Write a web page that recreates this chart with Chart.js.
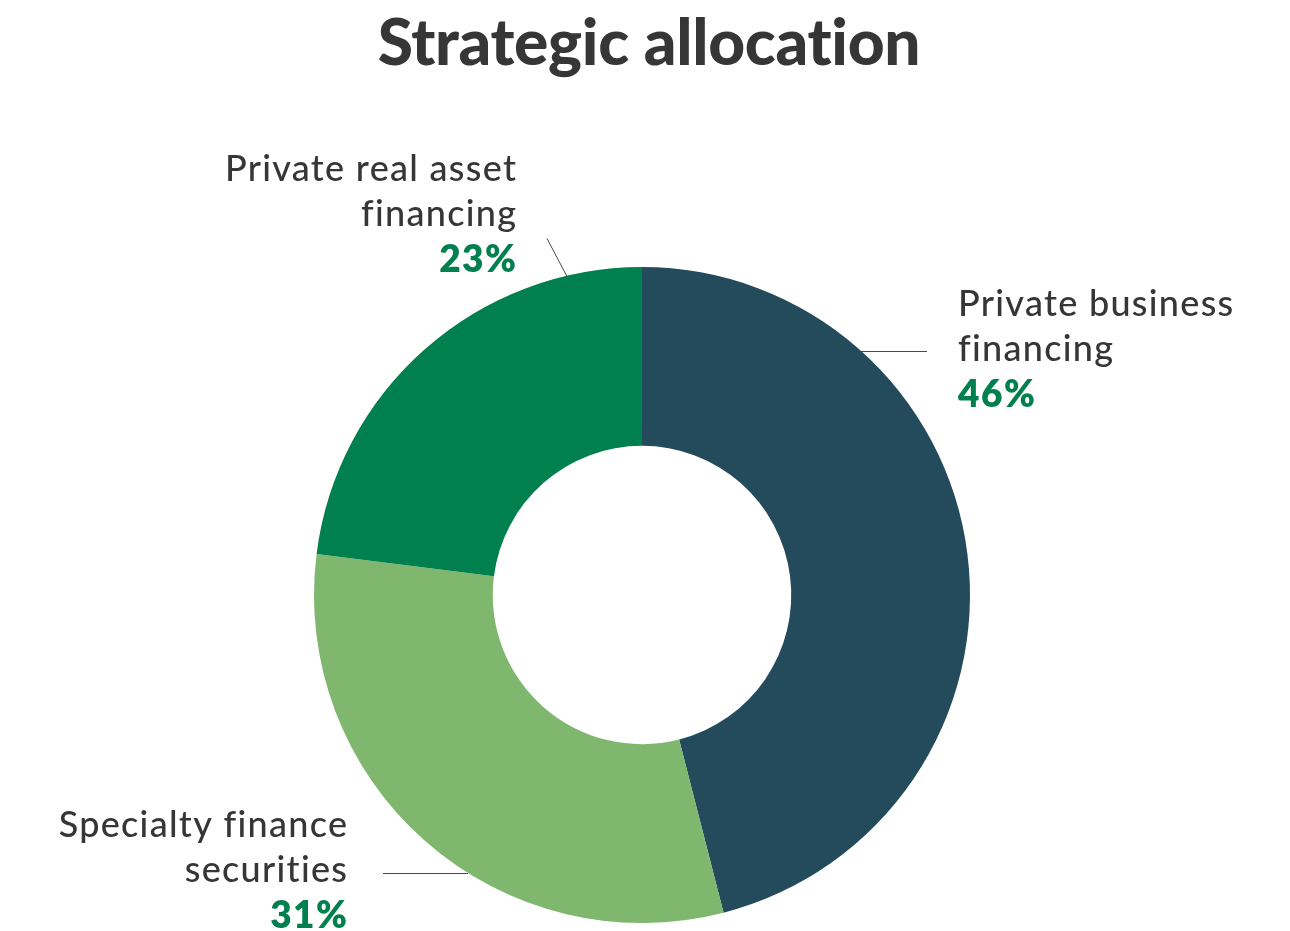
<!DOCTYPE html>
<html>
<head>
<meta charset="utf-8">
<script src="https://cdn.jsdelivr.net/npm/chart.js@4.4.1/dist/chart.umd.min.js"></script>
<style>
  html, body { margin: 0; padding: 0; background: #ffffff; }
  #wrap { width: 1290px; height: 931px; position: relative; }
</style>
</head>
<body>
<div id="wrap"><canvas id="c" width="1290" height="931"></canvas></div>
<script>
const titleText = "Strategic allocation";
const categories = ["Private business financing", "Specialty finance securities", "Private real asset financing"];
const labelLines = [["Private business", "financing"], ["Specialty finance", "securities"], ["Private real asset", "financing"]];
const values = [46, 31, 23];
const colors = ["#244B5C", "#7FB76E", "#007F4F"];

const TEXT = "#363636";
const PCT = "#007F4F";
const FONT = "Lato, 'Open Sans', sans-serif";

// label placement: angle (deg, clockwise from top) where leader meets arc, leader end, text anchor
const labelLayout = [
  { ang: 41.9, lineEnd: (cx, cy, r) => ({ x: cx + 285, y: null }), align: "left", tx: (cx) => cx + 316, ty0: (cy) => cy - 279 },
  { ang: 212.1, lineEnd: (cx, cy, r) => ({ x: cx - 259, y: null }), align: "right", tx: (cx) => cx - 295, ty0: (cy) => cy + 242 },
  { ang: -13.2, lineEnd: (cx, cy, r) => ({ x: cx - 95, y: cy - 357 }), align: "right", tx: (cx) => cx - 126, ty0: (cy) => cy - 414 }
];

function drawSpaced(ctx, text, x, y, spacing, align) {
  ctx.letterSpacing = spacing + "px";
  const adj = align === "right" ? spacing : 0;
  ctx.fillText(text, x + adj, y);
  ctx.letterSpacing = "0px";
}

const labelsPlugin = {
  id: "sliceLabels",
  afterDatasetsDraw(chart) {
    const ctx = chart.ctx;
    const meta = chart.getDatasetMeta(0);
    const arc0 = meta.data[0];
    const cx = arc0.x, cy = arc0.y, r = arc0.outerRadius;
    ctx.save();
    // title
    ctx.fillStyle = TEXT;
    ctx.font = "900 64px " + FONT;
    ctx.textAlign = "center";
    ctx.textBaseline = "alphabetic";
    drawSpaced(ctx, titleText, 649, 65, -0.3, "center");

    labelLayout.forEach((L, i) => {
      const a = L.ang * Math.PI / 180;
      const sx = cx + r * Math.sin(a);
      const sy = cy - r * Math.cos(a);
      const e = L.lineEnd(cx, cy, r);
      const ex = e.x, ey = e.y === null ? sy : e.y;
      ctx.strokeStyle = "#4a4a4a";
      ctx.lineWidth = 1;
      ctx.beginPath();
      ctx.moveTo(Math.round(sx), Math.round(sy) + 0.5);
      ctx.lineTo(Math.round(ex), Math.round(ey) + 0.5);
      ctx.stroke();

      const x = L.tx(cx);
      let y = L.ty0(cy);
      ctx.textAlign = L.align;
      ctx.fillStyle = TEXT;
      ctx.font = "500 36px " + FONT;
      labelLines[i].forEach(t => { drawSpaced(ctx, t, x, y, 1.3, L.align); y += 45; });
      ctx.fillStyle = PCT;
      ctx.font = "800 37px " + FONT;
      drawSpaced(ctx, values[i] + "%", x, y + 1, 1.5, L.align);
    });
    ctx.restore();
  }
};

new Chart(document.getElementById("c"), {
  type: "doughnut",
  data: {
    labels: categories,
    datasets: [{
      data: values,
      backgroundColor: colors,
      borderWidth: 0,
      hoverOffset: 0
    }]
  },
  options: {
    responsive: false,
    animation: false,
    cutout: "45.5%",
    rotation: 0,
    layout: { padding: { left: 314, right: 320, top: 267, bottom: 8 } },
    plugins: {
      legend: { display: false },
      tooltip: { enabled: false },
      title: { display: false }
    }
  },
  plugins: [labelsPlugin]
});
</script>
</body>
</html>
